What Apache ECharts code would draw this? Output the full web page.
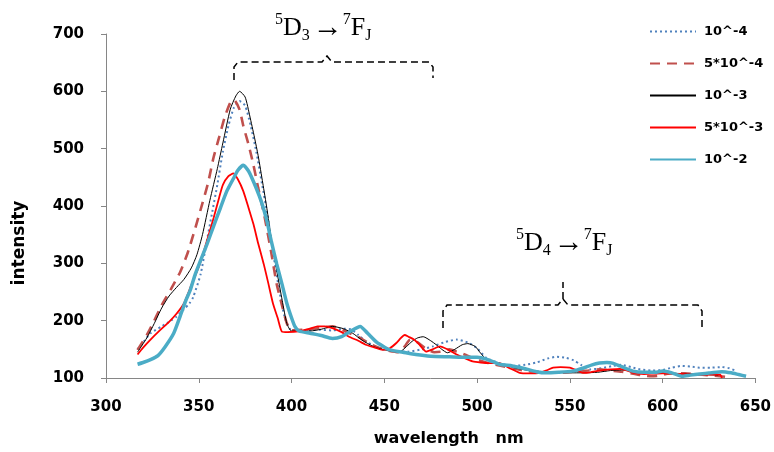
<!DOCTYPE html>
<html>
<head>
<meta charset="utf-8">
<script src="https://cdn.jsdelivr.net/npm/echarts@6/dist/echarts.min.js"></script>
<style>
  html, body { margin: 0; padding: 0; background: #fff; }
  #main { width: 774px; height: 452px; }
</style>
</head>
<body>
<div id="main"></div>
<script>
// 图例名称
var seriesNames = ['10^-4', '5*10^-4', '10^-3', '5*10^-3', '10^-2'];
var xTicks = [300, 350, 400, 450, 500, 550, 600, 650];
var yTicks = [100, 200, 300, 400, 500, 600, 700];

// [wavelength, intensity]
var dataE4 = [[317,150],[320,162],[324,178],[330,190],[335,200],[338,207],[342,220],[345,230],[347,241],[351,281],[354,333],[357,385],[360,437],[363,495],[366,540],[369,572],[372,583],[375,575],[378,540],[381,495],[384,440],[387,385],[390,320],[393,260],[396,210],[399,186],[405,183],[415,184],[422,183],[428,186],[432,185],[436,175],[440,164],[445,155],[449,150],[455,147],[463,146],[470,150],[476,155],[483,163],[489,167],[495,162],[500,152],[505,135],[512,126],[519,121],[526,123],[532,127],[538,134],[543,137],[548,135],[552,131],[556,123],[561,115],[567,117],[573,121],[578,123],[583,119],[588,115],[594,113],[600,114],[605,118],[610,121],[615,120],[620,118],[626,118],[632,119],[636,117],[640,112]];
var dataE45 = [[317,149],[322,175],[326,200],[330,227],[335,255],[340,285],[344,318],[348,360],[352,405],[355,440],[358,485],[361,520],[364,555],[367,580],[369,585],[372,568],[374,540],[377,505],[379.5,471],[382,432],[385.6,379],[389,320],[392,264],[395,225],[397.5,195],[400,183],[406,184],[415,187],[422,190],[430,180],[437,170],[442,160],[447,153],[452,148],[458,145],[461,155],[464,167],[468,162],[472,152],[477,145],[481,146],[485,150],[489,146],[494,140],[500,132],[506,126],[512,122],[520,116],[528,112],[536,110],[544,109],[552,111],[560,113],[566,115],[572,113],[578,111],[585,107],[590,104],[594,103],[598,104],[604,108],[612,108],[620,106],[628,104],[634,102]];
var dataE3 = [[317,145],[322,170],[326,195],[330,222],[334,243],[338,258],[342,272],[346,292],[349,315],[352,350],[356,410],[360,465],[363,510],[367,569],[370,592],[372,600],[375,590],[377.5,557],[380,520],[382,488],[384.5,440],[386.7,396],[389,345],[392,288],[395,235],[397.5,195],[400,182],[410,182],[416,185],[422,190],[428,186],[433,178],[438,166],[444,155],[449,150],[454,147],[458,145],[462,155],[465,164],[468,170],[471,172],[475,165],[478,158],[481,150],[484,144],[488,150],[492,158],[495,160],[499,155],[502,143],[505,133],[512,125],[520,118],[528,113],[535,111],[542,110],[550,109],[557,109],[565,110],[572,113],[578,114],[585,111],[592,109],[600,110],[608,108],[615,107],[622,106],[630,105]];
var dataE35 = [[317,141],[320,153],[324,167],[329,183],[334,198],[338,212],[342,230],[346,262],[350.6,299],[354,335],[358,379],[361,415],[363,437],[366,452],[368.7,457],[371,447],[374,426],[377,395],[379.5,368],[382,335],[385,299],[387.5,265],[390,230],[392.5,205],[394.8,181],[398,180],[405,182],[410,186],[414,190],[418,190],[422,187],[427,180],[431,172],[436,165],[440,158],[445,153],[449,149],[453,152],[456.5,161],[459,170],[461,175],[463,172],[466,167],[469,158],[472.6,146],[476,150],[480,155],[484,150],[489,141],[493,135],[497.6,129],[502,127],[507,126],[512,126],[517,118],[523,109],[528,108],[534,109],[538,114],[541,118],[545,119],[550,118],[554,113],[557,109],[561,110],[566,113],[572,115],[577,116],[581,113],[584,109],[590,107],[600,108],[610,107],[620,106],[628,106],[631,106],[632,100]];
var dataE2 = [[317,124],[320,127],[324,132],[328,139],[332,155],[336.5,178],[340,208],[343,235],[345.4,253],[348,280],[351,305],[354.4,333],[358,365],[361.6,396],[365,425],[368.7,448],[371,462],[374,471],[377,460],[381,431],[384,405],[386.7,374],[389,340],[392,299],[395,262],[397.5,230],[400,205],[401.8,190],[404,182],[410,178],[416,174],[422,169],[427,172],[432,182],[437,190],[441,178],[446,162],[450,154],[453,149],[460,145],[467,141],[475,138],[485,137],[495,136],[500,136],[505,133],[512,124],[519,121],[526,116],[532,111],[537,109],[544,110],[551.5,112],[557,117],[562,123],[566,126],[570,127],[573,126],[577,121],[584,112],[590,110],[596,110],[600,112],[605,109],[610.7,103],[615,105],[620,107],[626,109],[632,111],[637,109],[641,106],[645,103]];

var axisFont = 'DejaVu Sans';

// 上下标文字
function levelText(sub1) {
  return '{sup|5}{m|D}{sub|' + sub1 + '}{arr|\u2192}{sup|7}{m|F}{sub|J}';
}
var richStyle = {
  m: { fontFamily: 'Liberation Serif', fontSize: 26, lineHeight: 32, fill: '#000', verticalAlign: 'middle' },
  arr: { fontFamily: 'Liberation Serif', fontSize: 30, fill: '#000', verticalAlign: 'middle', padding: [0, 0, 0, 3] },
  sup: { fontFamily: 'Liberation Serif', fontSize: 16, fill: '#000', verticalAlign: 'top' },
  sub: { fontFamily: 'Liberation Serif', fontSize: 16, fill: '#000', verticalAlign: 'bottom' }
};

var chart = echarts.init(document.getElementById('main'));

function lineSeries(name, data, color, width, type) {
  return {
    name: name,
    type: 'line',
    data: data,
    symbol: 'none',
    smooth: 0.2,
    lineStyle: { color: color, width: width, type: type },
    itemStyle: { color: color }
  };
}

var option = {
  backgroundColor: '#fff',
  animation: false,
  grid: { left: 106, right: 18, top: 34, bottom: 70 },
  legend: {
    orient: 'vertical',
    left: 649,
    top: 25,
    padding: 0,
    itemWidth: 46,
    itemHeight: 14,
    itemGap: 19,
    data: seriesNames,
    itemStyle: { opacity: 0 },
    textStyle: { fontFamily: axisFont, fontWeight: 'bold', fontSize: 13, color: '#000', padding: [0, 0, 0, 3] }
  },
  xAxis: {
    type: 'value',
    min: xTicks[0],
    max: xTicks[xTicks.length - 1],
    interval: 50,
    name: 'wavelength   nm',
    nameLocation: 'middle',
    nameGap: 53,
    nameTextStyle: { fontFamily: axisFont, fontWeight: 'bold', fontSize: 16, color: '#000', padding: [0, 0, 0, 36] },
    axisLine: { lineStyle: { color: '#868686', width: 1 } },
    axisTick: { show: true, length: 5, lineStyle: { color: '#868686' } },
    axisLabel: { fontFamily: axisFont, fontWeight: 'bold', fontSize: 15, color: '#000', margin: 22 },
    splitLine: { show: false }
  },
  yAxis: {
    type: 'value',
    min: yTicks[0],
    max: yTicks[yTicks.length - 1],
    interval: 100,
    name: 'intensity',
    nameLocation: 'middle',
    nameGap: 78,
    nameTextStyle: { fontFamily: axisFont, fontWeight: 'bold', fontSize: 17, color: '#000', padding: [0, 74, 0, 0] },
    axisLine: { show: true, lineStyle: { color: '#868686', width: 1 } },
    axisTick: { show: true, length: 5, lineStyle: { color: '#868686' } },
    axisLabel: { fontFamily: axisFont, fontWeight: 'bold', fontSize: 15, color: '#000', margin: 22 },
    splitLine: { show: false }
  },
  series: [
    lineSeries(seriesNames[0], dataE4, '#4F81BD', 2, [2, 3]),
    lineSeries(seriesNames[1], dataE45, '#C0504D', 2.6, [10, 7]),
    lineSeries(seriesNames[2], dataE3, '#000000', 1, 'solid'),
    lineSeries(seriesNames[3], dataE35, '#FF0000', 1.8, 'solid'),
    lineSeries(seriesNames[4], dataE2, '#4BACC6', 3.5, 'solid')
  ],
  graphic: [
    // 5D3 -> 7FJ
    { type: 'text', left: 275, top: 12, style: { text: levelText('3'), rich: richStyle } },
    { type: 'polyline', shape: { points: [[234,80],[234,67],[238,62],[322,62],[327,56],[332,62],[429,62],[433,67],[433,78]] },
      style: { stroke: '#000', lineWidth: 1.5, lineDash: [7, 4], fill: 'none' } },
    // 5D4 -> 7FJ
    { type: 'text', left: 516, top: 227, style: { text: levelText('4'), rich: richStyle } },
    { type: 'polyline', shape: { points: [[443,328],[443,311],[447,305],[558,305],[563,299],[563,282]] },
      style: { stroke: '#000', lineWidth: 1.5, lineDash: [7, 4], fill: 'none' } },
    { type: 'polyline', shape: { points: [[563,299],[568,305],[698,305],[702,311],[702,328]] },
      style: { stroke: '#000', lineWidth: 1.5, lineDash: [7, 4], fill: 'none' } }
  ]
};

chart.setOption(option);
</script>
</body>
</html>
